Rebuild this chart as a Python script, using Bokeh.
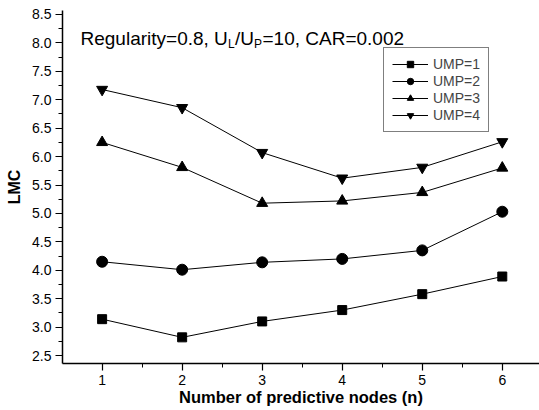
import math
from bokeh.plotting import figure
from bokeh.models import (Range1d, SingleIntervalTicker, PrintfTickFormatter,
                          Label, Legend, LegendItem)
from bokeh.embed import file_html
from bokeh.resources import INLINE

# ---- data ----
nodes = [1, 2, 3, 4, 5, 6]
ump1 = [3.14, 2.82, 3.10, 3.30, 3.58, 3.89]
ump2 = [4.15, 4.01, 4.14, 4.20, 4.35, 5.03]
ump3 = [6.25, 5.81, 5.18, 5.22, 5.37, 5.80]
ump4 = [7.18, 6.86, 6.07, 5.62, 5.81, 6.26]
series_names = ["UMP=1", "UMP=2", "UMP=3", "UMP=4"]
series_markers = ["square", "circle", "triangle", "inverted_triangle"]

W, H = 539, 410
L_B, R_B, T_B, B_B = 62, 0, 10, 47
X0, X1 = 0.505, 6.465
Y0, Y1 = 2.36, 8.57

p = figure(width=W, height=H, output_backend="svg", toolbar_location=None,
           x_range=Range1d(X0, X1), y_range=Range1d(Y0, Y1),
           min_border_left=L_B, min_border_right=R_B,
           min_border_top=T_B, min_border_bottom=B_B)
p.outline_line_color = None
p.xgrid.visible = False
p.ygrid.visible = False
p.background_fill_color = "white"
p.border_fill_color = "white"

FONT = "Liberation Sans"

for ax in (p.xaxis[0], p.yaxis[0]):
    ax.axis_line_color = "black"
    ax.axis_line_width = 1.5
    ax.major_tick_line_color = "black"
    ax.minor_tick_line_color = "black"
    ax.major_tick_line_width = 1.2
    ax.minor_tick_line_width = 1
    ax.major_tick_in = 0
    ax.major_tick_out = 7
    ax.minor_tick_in = 0
    ax.minor_tick_out = 4
    ax.major_label_text_font = FONT
    ax.major_label_text_font_size = "14px"
    ax.major_label_text_color = "black"
    ax.axis_label_text_font = FONT
    ax.axis_label_text_font_style = "bold"
    ax.axis_label_text_color = "black"

p.xaxis[0].ticker = SingleIntervalTicker(interval=1, num_minor_ticks=2)
p.yaxis[0].ticker = SingleIntervalTicker(interval=0.5, num_minor_ticks=2)
p.yaxis[0].formatter = PrintfTickFormatter(format="%.1f")
p.xaxis[0].major_label_standoff = 4
p.yaxis[0].major_label_standoff = 4

p.yaxis[0].axis_label = "LMC"
p.yaxis[0].axis_label_text_font_size = "16px"
p.yaxis[0].axis_label_standoff = 6

p.xaxis[0].axis_label = "Number of predictive nodes (n)"
p.xaxis[0].axis_label_text_font_size = "16.5px"
p.xaxis[0].axis_label_standoff = 0

items = []
for name, mk, vals in zip(series_names, series_markers, [ump1, ump2, ump3, ump4]):
    r1 = p.line(nodes, vals, line_color="black", line_width=1)
    size = 9 if mk == "square" else 11
    r2 = p.scatter(nodes, vals, marker=mk, size=size, fill_color="black",
                   line_color="black")
    items.append(LegendItem(label=name, renderers=[r1, r2]))

legend = Legend(items=items, location=(321, 231), margin=0, padding=8,
                spacing=1, glyph_width=36, glyph_height=16, label_height=16,
                label_standoff=5, label_text_font=FONT,
                label_text_font_size="14px", border_line_color="black",
                border_line_width=1.5, background_fill_color="white",
                background_fill_alpha=1)
p.add_layout(legend, "center")

# title pieces with subscripts (screen units, relative to frame bottom-left)
def sx(px):
    return px - L_B
def sy(py):
    return (H - B_B) - py

main_fs, sub_fs = 19, 12
base_y, sub_y = 38, 43
pieces = [("Regularity=0.8, U", 80, base_y, main_fs),
          ("L", 227.5, sub_y, sub_fs),
          ("/U", 234.5, base_y, main_fs),
          ("P", 253.5, sub_y, sub_fs),
          ("=10, CAR=0.002", 262, base_y, main_fs)]
for txt, px, py, fs in pieces:
    p.add_layout(Label(x=sx(px), y=sy(py), x_units="screen", y_units="screen",
                       text=txt, text_font=FONT,
                       text_font_size=f"{fs}px", text_color="black",
                       text_align="left", text_baseline="alphabetic"))

open("out.html", "w").write(file_html(p, INLINE))
